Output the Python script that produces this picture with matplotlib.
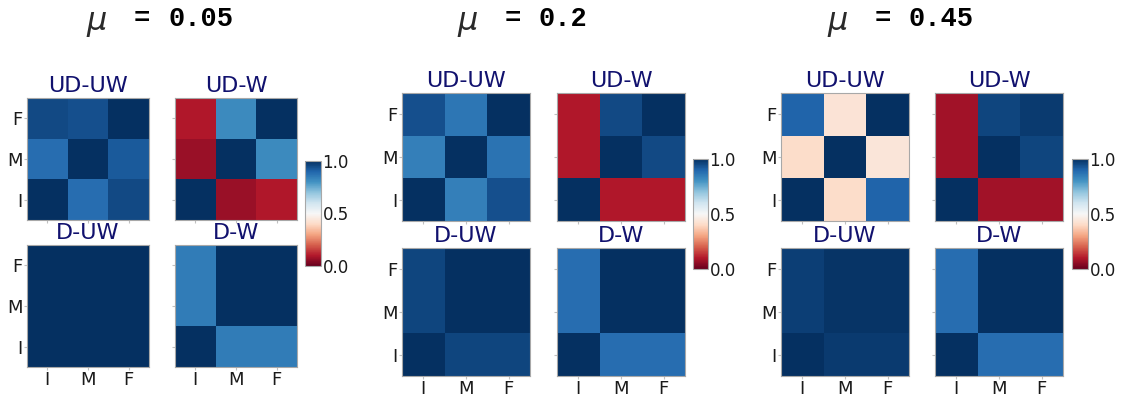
import matplotlib
matplotlib.use("Agg")
import matplotlib.pyplot as plt
import numpy as np

# ordering of rows/cols: I, M, F (drawn bottom-to-top, left-to-right)
groups = ["I", "M", "F"]
mu_labels = ["0.05", "0.2", "0.45"]
titles = ["UD-UW", "UD-W", "D-UW", "D-W"]

ud_uw_005 = [[1.00, 0.88, 0.95], [0.88, 1.00, 0.92], [0.95, 0.94, 1.00]]
ud_w_005 = [[1.00, 0.07, 0.10], [0.07, 1.00, 0.82], [0.10, 0.82, 1.00]]
d_uw_005 = [[1.00, 1.00, 1.00], [1.00, 1.00, 1.00], [1.00, 1.00, 1.00]]
d_w_005 = [[1.00, 0.85, 0.85], [0.85, 1.00, 1.00], [0.85, 1.00, 1.00]]

ud_uw_02 = [[1.00, 0.84, 0.94], [0.84, 1.00, 0.87], [0.94, 0.86, 1.00]]
ud_w_02 = [[1.00, 0.10, 0.10], [0.10, 1.00, 0.95], [0.10, 0.95, 1.00]]
d_uw_02 = [[1.00, 0.96, 0.96], [0.96, 1.00, 1.00], [0.96, 1.00, 1.00]]
d_w_02 = [[1.00, 0.88, 0.88], [0.88, 1.00, 1.00], [0.88, 1.00, 1.00]]

ud_uw_045 = [[1.00, 0.41, 0.90], [0.41, 1.00, 0.44], [0.90, 0.43, 1.00]]
ud_w_045 = [[1.00, 0.08, 0.08], [0.08, 1.00, 0.96], [0.08, 0.96, 0.98]]
d_uw_045 = [[1.00, 0.98, 0.98], [0.97, 0.99, 0.99], [0.97, 0.99, 0.99]]
d_w_045 = [[1.00, 0.88, 0.88], [0.88, 1.00, 1.00], [0.88, 1.00, 1.00]]

mats = [[ud_uw_005, ud_w_005, d_uw_005, d_w_005],
        [ud_uw_02, ud_w_02, d_uw_02, d_w_02],
        [ud_uw_045, ud_w_045, d_uw_045, d_w_045]]

W, H = 1131, 399
fig = plt.figure(figsize=(W / 100, H / 100), dpi=100)

def px(x0, y0, w, h):
    # pixel box (top-left origin) -> figure fraction
    return [x0 / W, 1 - (y0 + h) / H, w / W, h / H]

# per block: heatmap columns x, row tops y, size, colorbar box, title x positions
blocks = [
    dict(xs=(27, 175), ys=(98, 245), s=122, cb=(305, 161, 16, 105), mu=97, eq=142, num=168),
    dict(xs=(402, 557), ys=(93, 248), s=128, cb=(693, 159, 15, 110), mu=468, eq=513, num=538),
    dict(xs=(781, 935), ys=(93, 248), s=128, cb=(1072, 159, 16, 110), mu=838, eq=883, num=908),
]

spine_col = "#a8a8a8"
for b, blk in enumerate(blocks):
    im = None
    for k in range(4):
        r, c = divmod(k, 2)
        ax = fig.add_axes(px(blk["xs"][c], blk["ys"][r], blk["s"], blk["s"]))
        im = ax.imshow(np.array(mats[b][k]), cmap="RdBu", vmin=0, vmax=1,
                       origin="lower", aspect="auto")
        ax.set_title(titles[k], color="#11116e", fontsize=16, pad=4)
        ax.set_xticks(range(3))
        ax.set_yticks(range(3))
        ax.set_xticklabels(groups if r == 1 else [], fontsize=13)
        ax.set_yticklabels(groups if c == 0 else [], fontsize=13)
        ax.tick_params(length=2.5, width=0.8, color="#c0c0c0",
                       labelcolor="#1a1a1a", pad=0.5)
        for sp in ax.spines.values():
            sp.set_color(spine_col)
    cax = fig.add_axes(px(*blk["cb"]))
    cb = fig.colorbar(im, cax=cax, ticks=[0.0, 0.5, 1.0])
    cb.ax.tick_params(labelsize=12, length=0, pad=1, labelcolor="#1a1a1a")
    cb.outline.set_edgecolor(spine_col)

    fig.text(blk["mu"] / W, 1 - 30 / H, r"$\mu$", fontsize=23, color="#2a2a2a",
             ha="center", va="baseline")
    fig.text(blk["eq"] / W, 1 - 26 / H, "=", fontsize=19.5,
             family="Liberation Mono", weight="bold", ha="center", va="baseline")
    fig.text(blk["num"] / W, 1 - 26 / H, mu_labels[b], fontsize=19.5,
             family="Liberation Mono", weight="bold", ha="left", va="baseline")

fig.savefig("out.png", dpi=100)
